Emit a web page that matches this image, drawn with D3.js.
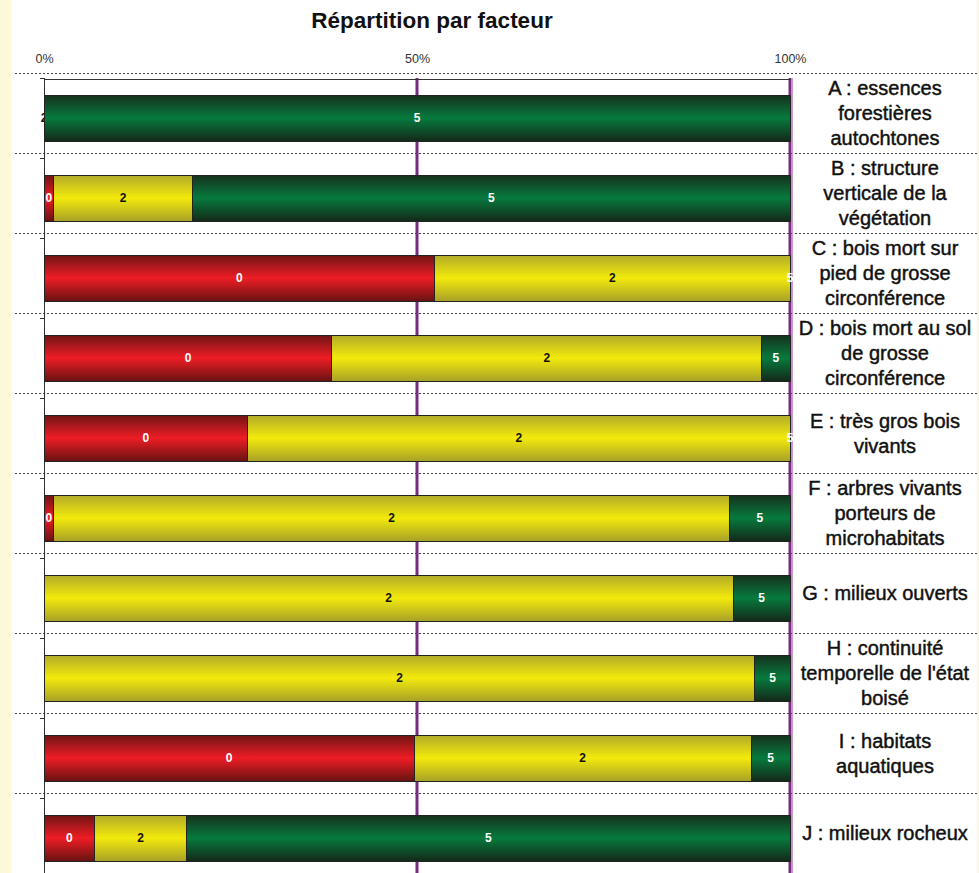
<!DOCTYPE html>
<html>
<head>
<meta charset="utf-8">
<title>Répartition par facteur</title>
<script src="https://d3js.org/d3.v7.min.js"></script>
<style>
body { margin: 0; background: #ffffff; font-family: 'Liberation Sans', Arial, sans-serif; }
.axis path, .axis line { stroke: #333333; shape-rendering: crispEdges; }
.axis text { font-size: 12.5px; fill: #333333; }
.row-sep { stroke: #444444; stroke-dasharray: 2,2; shape-rendering: crispEdges; }
.seg { stroke: #222222; stroke-width: 1px; shape-rendering: crispEdges; }
.seg-label { font-size: 12px; font-weight: bold; text-anchor: middle; }
.cat-label { font-size: 20px; fill: #111111; stroke: #111111; stroke-width: 0.45px; text-anchor: middle; }
</style>
</head>
<body>
<script>
'use strict';
// categories (one entry per row, label lines as in the original)
const categories = ['A', 'B', 'C', 'D', 'E', 'F', 'G', 'H', 'I', 'J'];
const categoryLabels = [
	['A : essences', 'forestières', 'autochtones'],
	['B : structure', 'verticale de la', 'végétation'],
	['C : bois mort sur', 'pied de grosse', 'circonférence'],
	['D : bois mort au sol', 'de grosse', 'circonférence'],
	['E : très gros bois', 'vivants'],
	['F : arbres vivants', 'porteurs de', 'microhabitats'],
	['G : milieux ouverts'],
	['H : continuité', 'temporelle de l\'état', 'boisé'],
	['I : habitats', 'aquatiques'],
	['J : milieux rocheux']
];
// share (%) of each score per factor
const series = ['0', '2', '5'];
const score0 = [0, 1.3, 52.4, 38.6, 27.3, 1.3, 0, 0, 49.6, 6.8];
const score2 = [0, 18.6, 47.6, 57.6, 72.7, 90.6, 92.4, 95.3, 45.2, 12.3];
const score5 = [100, 80.1, 0, 3.8, 0, 8.1, 7.6, 4.7, 5.2, 80.9];
const tickValues = [0, 0.5, 1];

const W = 979, H = 873;
const table = categories.map(function (c, i) {
	return { cat: c, '0': score0[i], '2': score2[i], '5': score5[i] };
});
const stacked = d3.stack().keys(series).offset(d3.stackOffsetExpand)(table);

const x = d3.scaleLinear().domain([0, 1]).range([44, 790]);
const y = d3.scaleBand().domain(categories).range([78, 878]);
const barH = y.bandwidth() * 0.575;

const svg = d3.select('body').append('svg')
	.attr('width', W)
	.attr('height', H);

svg.append('rect').attr('width', W).attr('height', H).attr('fill', '#ffffff');
svg.append('rect').attr('width', 12).attr('height', H).attr('fill', '#fcf8d8');
svg.append('rect').attr('x', 977).attr('width', 2).attr('height', H).attr('fill', '#fcf8d8');

// title
svg.append('text')
	.attr('x', 432).attr('y', 28)
	.attr('text-anchor', 'middle')
	.style('font-size', '22.5px').style('font-weight', 'bold').style('fill', '#111')
	.text('Répartition par facteur');

// dotted row separators (label table)
svg.selectAll('.row-sep')
	.data(categories)
	.enter().append('line')
	.attr('class', 'row-sep')
	.attr('x1', 15).attr('x2', 977)
	.attr('y1', function (d) { return y(d) - 5 + 0.5; })
	.attr('y2', function (d) { return y(d) - 5 + 0.5; });

// purple reference lines at 50% and 100%
svg.selectAll('.ref')
	.data([0.5, 1])
	.enter().append('line')
	.attr('class', 'ref')
	.attr('x1', function (d) { return x(d); })
	.attr('x2', function (d) { return x(d); })
	.attr('y1', 78).attr('y2', H)
	.attr('stroke', '#7b2a83').attr('stroke-width', 3);
svg.append('line')
	.attr('x1', x(1) + 2.5).attr('x2', x(1) + 2.5)
	.attr('y1', 78).attr('y2', H)
	.attr('stroke', '#c79ccc').attr('stroke-width', 1);

// top axis
svg.append('g')
	.attr('class', 'axis')
	.attr('transform', 'translate(0,78.5)')
	.call(d3.axisTop(x).tickValues(tickValues).tickFormat(d3.format('.0%'))
		.tickSize(0).tickPadding(16));

// left axis with ticks between categories
const yAxis = svg.append('g').attr('class', 'axis');
yAxis.append('line')
	.attr('x1', 44.5).attr('x2', 44.5).attr('y1', 78).attr('y2', H);
yAxis.selectAll('.ytick')
	.data(categories)
	.enter().append('line')
	.attr('x1', 40).attr('x2', 44)
	.attr('y1', function (d) { return y(d) + 0.5; })
	.attr('y2', function (d) { return y(d) + 0.5; });

// bar gradients
const defs = svg.append('defs');
const palette = {
	'0': ['#6e1414', '#ee1d25', '#6a1212'],
	'2': ['#b2aa2a', '#f2ea0b', '#a9a228'],
	'5': ['#16301c', '#077a3e', '#132a18']
};
series.forEach(function (k) {
	const g = defs.append('linearGradient')
		.attr('id', 'grad' + k)
		.attr('x1', 0).attr('y1', 0).attr('x2', 0).attr('y2', 1);
	g.append('stop').attr('offset', '0%').attr('stop-color', palette[k][0]);
	g.append('stop').attr('offset', '50%').attr('stop-color', palette[k][1]);
	g.append('stop').attr('offset', '100%').attr('stop-color', palette[k][2]);
});

// bars
const layers = svg.selectAll('.layer')
	.data(stacked)
	.enter().append('g')
	.attr('class', 'layer')
	.attr('fill', function (d) { return 'url(#grad' + d.key + ')'; });

layers.selectAll('rect')
	.data(function (d) { return d; })
	.enter().append('rect')
	.attr('class', 'seg')
	.attr('x', function (d) { return x(d[0]); })
	.attr('width', function (d) { return Math.max(0, x(d[1]) - x(d[0])); })
	.attr('y', function (d) { return y(d.data.cat) + (y.bandwidth() - barH) / 2; })
	.attr('height', barH)
	.style('display', function (d) { return d[1] - d[0] > 0 ? null : 'none'; });

// segment labels
layers.selectAll('.seg-label')
	.data(function (d) { return d.map(function (v) { v.key = d.key; return v; }); })
	.enter().append('text')
	.attr('class', 'seg-label')
	.attr('x', function (d) { return x((d[0] + d[1]) / 2); })
	.attr('y', function (d) { return y(d.data.cat) + y.bandwidth() / 2 + 4; })
	.style('fill', function (d) { return d.key === '2' ? '#111111' : '#ffffff'; })
	.text(function (d) { return d.key; });

// category labels on the right
const labels = svg.selectAll('.cat-label')
	.data(categories)
	.enter().append('text')
	.attr('class', 'cat-label')
	.attr('y', function (d, i) {
		const n = categoryLabels[i].length;
		return y(d) + y.bandwidth() / 2 - 5 - (n - 1) * 12.5 + 7;
	});
labels.selectAll('tspan')
	.data(function (d, i) { return categoryLabels[i]; })
	.enter().append('tspan')
	.attr('x', 885)
	.attr('dy', function (d, i) { return i === 0 ? 0 : 25; })
	.text(function (d) { return d; });
</script>
</body>
</html>
